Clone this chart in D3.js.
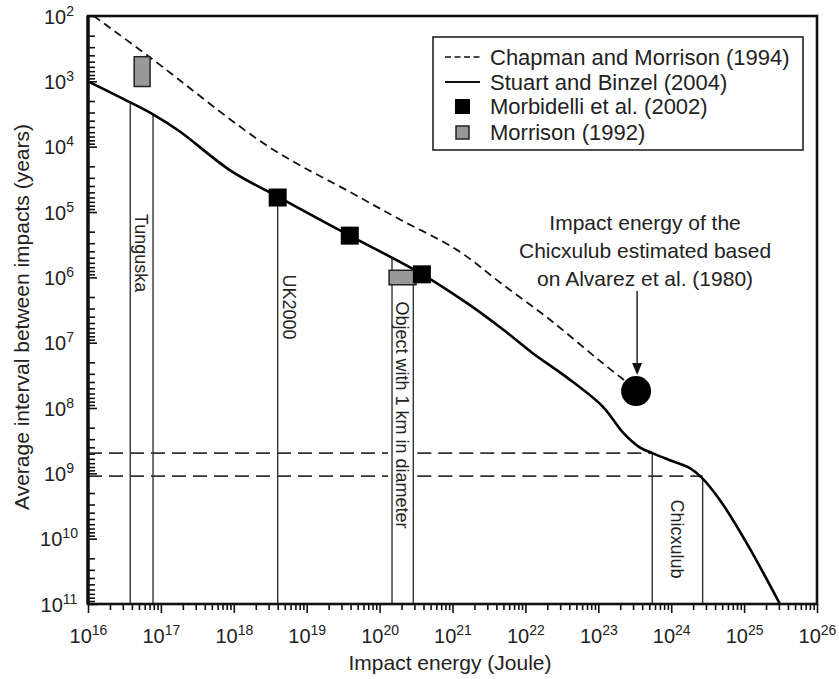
<!DOCTYPE html>
<html>
<head>
<meta charset="utf-8">
<script src="https://cdn.jsdelivr.net/npm/d3@7"></script>
<style>
  body { margin: 0; background: #fff; }
  svg { display: block; font-family: "Liberation Sans", Arial, sans-serif; }
</style>
</head>
<body>
<div id="chart"></div>
<script>
// Stuart and Binzel (2004) curve
const stuartEnergy = [1e16, 3.8e16, 7.8e16, 1.8e17, 8.9e17, 4.1e18, 3.9e19, 3.8e20, 1.6e21, 4.5e21, 1.26e22, 3.7e22, 1.15e23, 2.2e23, 3.7e23, 5.5e23, 9.6e23, 1.8e24, 2.6e24, 4.7e24, 1.1e25, 3.1e25];
const stuartInterval = [1e3, 2.1e3, 3.2e3, 5.8e3, 2.3e4, 5.9e4, 2.3e5, 8.9e5, 2.5e6, 5.8e6, 1.45e7, 3.4e7, 9.5e7, 2.4e8, 4e8, 4.9e8, 6.3e8, 8.3e8, 1.15e9, 2.6e9, 1.2e10, 1e11];

// Chapman and Morrison (1994)
const chapmanEnergy = [1.2e16, 7.1e16, 3e18, 4e19, 1.9e20, 1.15e21, 4.5e21, 2.2e22, 1.05e23, 2.3e23];
const chapmanInterval = [1e2, 4.3e2, 1e4, 5e4, 1.3e5, 3.8e5, 1.2e6, 4.5e6, 1.9e7, 3.8e7];

// Morbidelli et al. (2002)
const morbidelliEnergy = [4e18, 3.9e19, 3.8e20];
const morbidelliInterval = [6e4, 2.3e5, 9e5];

// Morrison (1992) ranges
const morrisonEnergy = [[4.3e16, 7.1e16], [1.35e20, 3.16e20]];
const morrisonInterval = [[4.2e2, 1.2e3], [7.8e5, 1.3e6]];

// marked events (vertical lines)
const eventNames = ["Tunguska", "UK2000", "Object with 1 km in diameter", "Chicxulub"];
const eventEnergy = [[3.8e16, 7.8e16], [4e18], [1.48e20, 2.9e20], [5.5e23, 2.7e24]];
const chicxulubInterval = [4.9e8, 1.1e9];

// Alvarez et al. (1980) estimate
const alvarezEnergy = 3.3e23;
const alvarezInterval = 5.5e7;

const xPowers = d3.range(16, 27);
const yPowers = d3.range(2, 12);
const legendLabels = ["Chapman and Morrison (1994)", "Stuart and Binzel (2004)", "Morbidelli et al. (2002)", "Morrison (1992)"];
const noteLines = ["Impact energy of the", "Chicxulub estimated based", "on Alvarez et al. (1980)"];

const width = 839, height = 679;
const L = 88, R = 817, T = 16, B = 604;

const x = d3.scaleLog().domain([1e16, 1e26]).range([L, R]);
const y = d3.scaleLog().domain([1e2, 1e11]).range([T, B]);

const svg = d3.select("#chart").append("svg")
    .attr("width", width)
    .attr("height", height);

// interval on the Stuart curve at a given energy (log-log linear)
function stuartAt(e) {
  const i = Math.max(1, Math.min(stuartEnergy.length - 1, d3.bisectLeft(stuartEnergy, e)));
  const e0 = stuartEnergy[i - 1], e1 = stuartEnergy[i];
  const t = (Math.log10(e) - Math.log10(e0)) / (Math.log10(e1) - Math.log10(e0));
  return Math.pow(10, Math.log10(stuartInterval[i - 1]) + t * (Math.log10(stuartInterval[i]) - Math.log10(stuartInterval[i - 1])));
}

const isMajor = d => Math.abs(Math.log10(d) - Math.round(Math.log10(d))) < 1e-6;
const xTicks = xPowers.slice(0, -1).flatMap(p => d3.range(1, 10).map(k => k * Math.pow(10, p))).concat([1e26]);
const yTicks = yPowers.slice(0, -1).flatMap(p => d3.range(1, 10).map(k => k * Math.pow(10, p))).concat([1e11]);

// axes ticks
const gx = svg.append("g")
    .attr("transform", `translate(0,${B})`)
    .call(d3.axisBottom(x).tickValues(xTicks).tickFormat(""));
gx.select(".domain").remove();
gx.selectAll(".tick line")
    .attr("stroke", "#111")
    .attr("stroke-width", 1.6)
    .attr("y2", d => isMajor(d) ? 9 : 6);
const xl = gx.selectAll(".tick").filter(isMajor).append("text")
    .attr("fill", "#222")
    .attr("y", 39)
    .attr("text-anchor", "middle")
    .attr("font-size", 20);
xl.append("tspan").text("10");
xl.append("tspan").attr("font-size", 14).attr("dy", -8).text(d => Math.round(Math.log10(d)));

const gy = svg.append("g")
    .attr("transform", `translate(${L},0)`)
    .call(d3.axisLeft(y).tickValues(yTicks).tickFormat(""));
gy.select(".domain").remove();
gy.selectAll(".tick line")
    .attr("stroke", "#111")
    .attr("stroke-width", 1.6)
    .attr("x2", d => isMajor(d) ? 9 : 7);
const yl = gy.selectAll(".tick").filter(isMajor).append("text")
    .attr("fill", "#222")
    .attr("x", 59 - L)
    .attr("dy", "0.36em")
    .attr("text-anchor", "middle")
    .attr("font-size", 20);
yl.append("tspan").text("10");
yl.append("tspan").attr("font-size", 14).attr("dy", -8).text(d => Math.round(Math.log10(d)));

// vertical event lines
eventEnergy.forEach(es => es.forEach(e => {
  svg.append("line")
      .attr("x1", x(e)).attr("x2", x(e))
      .attr("y1", y(stuartAt(e))).attr("y2", B)
      .attr("stroke", "#333").attr("stroke-width", 1.4);
}));

// horizontal dashed lines for Chicxulub
const objLeft = x(eventEnergy[2][0]) - 4, objRight = x(eventEnergy[2][1]) + 4;
chicxulubInterval.forEach((v, i) => {
  const segs = [[L, objLeft], [objRight, x(eventEnergy[3][i])]];
  segs.forEach(([a, b]) => svg.append("line")
      .attr("x1", a).attr("x2", b)
      .attr("y1", y(v)).attr("y2", y(v))
      .attr("stroke", "#333").attr("stroke-width", 1.7)
      .attr("stroke-dasharray", "14,7"));
});

// event labels
const labelPos = [
  [(x(eventEnergy[0][0]) + x(eventEnergy[0][1])) / 2, 253],
  [x(eventEnergy[1][0]) + 12, 307],
  [(x(eventEnergy[2][0]) + x(eventEnergy[2][1])) / 2, 415],
  [(x(eventEnergy[3][0]) + x(eventEnergy[3][1])) / 2, 539]
];
eventNames.forEach((n, i) => {
  svg.append("text")
      .attr("transform", `translate(${labelPos[i][0]},${labelPos[i][1]}) rotate(90)`)
      .attr("text-anchor", "middle")
      .attr("dy", "0.35em")
      .attr("font-size", 18)
      .attr("fill", "#222")
      .text(n);
});

// curves
const line = d3.line().x(d => x(d[0])).y(d => y(d[1])).curve(d3.curveCatmullRom.alpha(0.5));
svg.append("path")
    .datum(chapmanEnergy.map((e, i) => [e, chapmanInterval[i]]))
    .attr("d", line)
    .attr("fill", "none")
    .attr("stroke", "#111")
    .attr("stroke-width", 1.8)
    .attr("stroke-dasharray", "8,5");
svg.append("path")
    .datum(stuartEnergy.map((e, i) => [e, stuartInterval[i]]))
    .attr("d", line)
    .attr("fill", "none")
    .attr("stroke", "#000")
    .attr("stroke-width", 2.6);

// Morrison (1992) boxes
morrisonEnergy.forEach((es, i) => {
  svg.append("rect")
      .attr("x", x(es[0])).attr("width", x(es[1]) - x(es[0]))
      .attr("y", y(morrisonInterval[i][0])).attr("height", y(morrisonInterval[i][1]) - y(morrisonInterval[i][0]))
      .attr("fill", "#999").attr("stroke", "#222").attr("stroke-width", 1.5);
});

// Morbidelli squares
svg.selectAll(".morb")
  .data(morbidelliEnergy)
  .join("rect")
    .attr("x", d => x(d) - 9).attr("y", (d, i) => y(morbidelliInterval[i]) - 9)
    .attr("width", 18).attr("height", 18)
    .attr("fill", "#000");

// Alvarez point, arrow and note
const cx = x(alvarezEnergy), cy = y(alvarezInterval);
svg.append("circle").attr("cx", cx).attr("cy", cy).attr("r", 15).attr("fill", "#000");
svg.append("line")
    .attr("x1", cx + 1).attr("x2", cx + 1)
    .attr("y1", cy - 100).attr("y2", cy - 26)
    .attr("stroke", "#111").attr("stroke-width", 1.4);
svg.append("path")
    .attr("d", `M${cx - 4},${cy - 28}L${cx + 6},${cy - 28}L${cx + 1},${cy - 16}Z`)
    .attr("fill", "#111");
svg.append("text")
    .attr("x", cx + 9)
    .attr("text-anchor", "middle")
    .attr("font-size", 21)
    .attr("fill", "#222")
  .selectAll("tspan")
  .data(noteLines)
  .join("tspan")
    .attr("x", cx + 9)
    .attr("y", (d, i) => cy - 161 + i * 28)
    .text(d => d);

// frame
svg.append("rect")
    .attr("x", L).attr("y", T).attr("width", R - L).attr("height", B - T)
    .attr("fill", "none").attr("stroke", "#111").attr("stroke-width", 2.6);
svg.append("line")
    .attr("x1", L).attr("x2", L).attr("y1", T).attr("y2", B)
    .attr("stroke", "#111").attr("stroke-width", 3.4);

// legend
const lg = svg.append("g").attr("transform", "translate(433,37)");
lg.append("rect").attr("width", 370).attr("height", 113)
    .attr("fill", "#fff").attr("stroke", "#222").attr("stroke-width", 1.6);
const rowY = [20, 45, 69, 95];
lg.append("line").attr("x1", 12).attr("x2", 47).attr("y1", rowY[0]).attr("y2", rowY[0])
    .attr("stroke", "#111").attr("stroke-width", 1.6).attr("stroke-dasharray", "6,3.5");
lg.append("line").attr("x1", 12).attr("x2", 47).attr("y1", rowY[1]).attr("y2", rowY[1])
    .attr("stroke", "#111").attr("stroke-width", 1.8);
lg.append("rect").attr("x", 22).attr("y", rowY[2] - 7).attr("width", 15).attr("height", 15).attr("fill", "#000");
lg.append("rect").attr("x", 23).attr("y", rowY[3] - 6).attr("width", 13).attr("height", 13)
    .attr("fill", "#999").attr("stroke", "#222").attr("stroke-width", 1.5);
lg.selectAll(".lab")
  .data(legendLabels)
  .join("text")
    .attr("x", 57)
    .attr("y", (d, i) => rowY[i])
    .attr("dy", "0.36em")
    .attr("font-size", 22)
    .attr("fill", "#222")
    .text(d => d);

// axis titles
svg.append("text")
    .attr("x", 450).attr("y", 670)
    .attr("text-anchor", "middle")
    .attr("font-size", 21)
    .attr("fill", "#222")
    .text("Impact energy (Joule)");
svg.append("text")
    .attr("transform", "translate(22,317) rotate(-90)")
    .attr("text-anchor", "middle")
    .attr("dy", "0.35em")
    .attr("font-size", 21)
    .attr("fill", "#222")
    .text("Average interval between impacts (years)");
</script>
</body>
</html>
